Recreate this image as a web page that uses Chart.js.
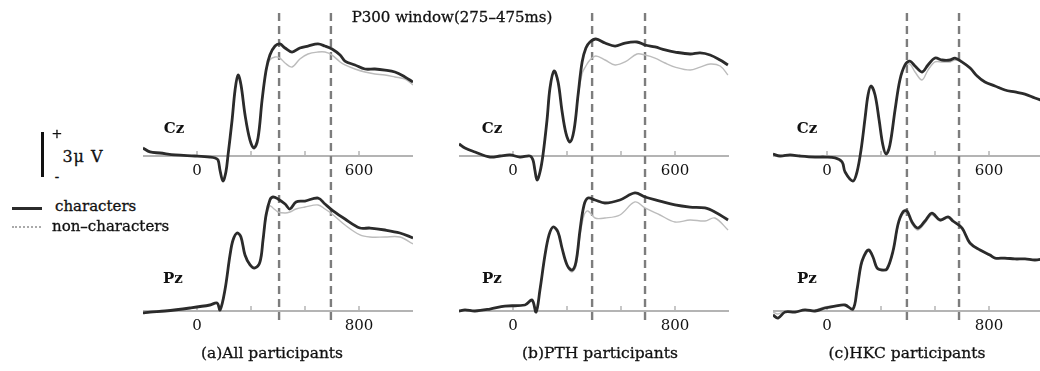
<!DOCTYPE html>
<html>
<head>
<meta charset="utf-8">
<title>ERP characters vs non-characters</title>
<script src="https://cdn.jsdelivr.net/npm/chart.js@4.4.1/dist/chart.umd.min.js"></script>
<style>
  html, body { margin: 0; padding: 0; width: 1040px; height: 371px; overflow: hidden; background: #fff; }
  body { position: relative; font-family: "DejaVu Serif", "Liberation Serif", serif; color: #111; }
  canvas { position: absolute; top: 0; }
  .t { position: absolute; white-space: nowrap; line-height: 1; transform: translate(-50%, -50%); -webkit-text-stroke: 0.3px #111; }
  .l { position: absolute; white-space: nowrap; line-height: 1; transform: translateY(-50%); -webkit-text-stroke: 0.3px #111; }
  .site { font-weight: bold; font-size: 15px; -webkit-text-stroke: 0; }
  .cap { font-size: 15.5px; }
</style>
</head>
<body>
<canvas id="colA" width="270" height="371" style="left:143px"></canvas>
<canvas id="colB" width="270" height="371" style="left:459px"></canvas>
<canvas id="colC" width="270" height="371" style="left:773px"></canvas>

<div class="t" style="left:452px;top:17px;font-size:15px;">P300 window(275–475ms)</div>

<div class="t site" style="left:174px;top:128px;">Cz</div>
<div class="t site" style="left:492px;top:128px;">Cz</div>
<div class="t site" style="left:807px;top:128px;">Cz</div>
<div class="t site" style="left:173px;top:278px;">Pz</div>
<div class="t site" style="left:492px;top:278px;">Pz</div>
<div class="t site" style="left:807px;top:278px;">Pz</div>

<div class="t cap" style="left:272px;top:354px;">(a)All participants</div>
<div class="t cap" style="left:600px;top:354px;">(b)PTH participants</div>
<div class="t cap" style="left:907px;top:354px;">(c)HKC participants</div>

<!-- scale bar -->
<div style="position:absolute;left:41px;top:132px;width:3px;height:45px;background:#111;"></div>
<div class="t" style="left:57px;top:133px;font-size:13px;">+</div>
<div class="t" style="left:57px;top:176px;font-size:13px;">-</div>
<div class="t" style="left:83px;top:157px;font-size:16px;letter-spacing:1px;">3μ V</div>

<!-- legend -->
<div style="position:absolute;left:12px;top:207px;width:30px;border-top:3px solid #2b2b2b;"></div>
<div class="l" style="left:55px;top:206px;font-size:15px;">characters</div>
<div style="position:absolute;left:12px;top:226px;width:29px;border-top:2px dotted #aaa;"></div>
<div class="l" style="left:52px;top:226px;font-size:15px;">non–characters</div>

<script>
// colours
const AXIS_GREY = "#b4b4b4";
const CHAR_COLOR = "#2b2b2b";
const NON_COLOR = "#bcbcbc";
const DASH_COLOR = "#7d7d7d";

// x axes: Cz panels in ms, Pz panels use their own (longer) time labels
const CZ_TICKS = [0, 200, 400, 600];
const CZ_TICK_LABELS = ["0", "", "", "600"];
const PZ_TICKS = [0, 266.7, 533.3, 800];
const PZ_TICK_LABELS = ["0", "", "", "800"];

// P300 window markers as drawn (ms on the Cz axis)
const A_WINDOW = [304, 496];
const B_WINDOW = [293, 489];
const C_WINDOW = [296, 489];

// (a) All participants -- Cz
const A_CZ_T = [-200, -174, -137, -81, -7, 48, 67, 78, 85, 96, 107, 115, 130, 141, 152, 163, 178, 196, 211, 226, 241, 256, 270, 289, 307, 326, 352, 381, 411, 448, 474, 500, 530, 548, 585, 622, 659, 696, 733, 770, 800];
const A_CZ_CHAR = [0.53, 0.27, 0.2, 0.07, 0, -0.07, -0.13, -0.27, -0.93, -1.67, -1.07, 0.07, 2.4, 4.4, 5.4, 4.73, 2.73, 1.07, 0.53, 1.2, 3.73, 5.73, 6.73, 7.33, 7.47, 7.2, 6.93, 7.2, 7.33, 7.47, 7.33, 7.13, 6.73, 6.33, 6.07, 5.8, 5.8, 5.73, 5.6, 5.27, 4.93];
const A_CZ_NON = [0.53, 0.27, 0.2, 0.07, 0, -0.07, -0.13, -0.27, -0.93, -1.67, -1.07, 0.07, 2.4, 4.4, 5.4, 4.73, 2.73, 1.07, 0.53, 1.2, 3.67, 5.6, 6.4, 6.6, 6.53, 6.2, 5.93, 6.47, 6.8, 6.93, 6.93, 6.73, 6.27, 6.07, 5.8, 5.6, 5.47, 5.4, 5.27, 5.13, 4.73];
// (a) All participants -- Pz
const A_PZ_T = [-267, -232, -158, -35, 64, 99, 114, 138, 163, 178, 198, 217, 237, 262, 286, 311, 326, 341, 360, 375, 400, 435, 459, 489, 533, 598, 632, 667, 731, 805, 854, 928, 1002, 1067];
const A_PZ_CHAR = [-0.13, -0.07, 0, 0.2, 0.4, 0.53, 0.07, 1.4, 3.73, 4.73, 5.2, 4.93, 3.73, 3.07, 2.87, 3.27, 4.73, 6.4, 7.4, 7.6, 7.47, 7.13, 6.8, 7.27, 7.33, 7.53, 7.13, 6.73, 6.13, 5.53, 5.53, 5.4, 5.2, 4.87];
const A_PZ_NON = [-0.13, -0.07, 0, 0.2, 0.4, 0.53, 0.07, 1.4, 3.73, 4.73, 5.2, 4.93, 3.73, 3.07, 2.87, 3.2, 4.6, 6.2, 7.0, 6.87, 6.6, 6.53, 6.6, 6.8, 6.93, 7.07, 6.8, 6.47, 5.73, 5.07, 4.93, 4.93, 4.93, 4.47];

// (b) PTH participants -- Cz
const B_CZ_T = [-200, -178, -141, -85, -48, -11, 26, 63, 74, 81, 89, 100, 111, 126, 137, 152, 167, 181, 196, 211, 226, 241, 256, 270, 285, 307, 341, 378, 415, 459, 489, 526, 563, 600, 656, 693, 730, 767, 796];
const B_CZ_CHAR = [0.8, 0.53, 0.27, -0.07, 0, 0.07, -0.07, 0, -0.27, -0.93, -1.6, -1.07, 0.07, 2.4, 4.53, 5.67, 4.93, 3.07, 1.53, 0.93, 1.73, 4.07, 6.27, 7.2, 7.6, 7.8, 7.53, 7.33, 7.53, 7.6, 7.4, 7.27, 7.07, 6.93, 6.8, 6.87, 6.73, 6.4, 6.07];
const B_CZ_NON = [0.8, 0.53, 0.27, -0.07, 0, 0.07, -0.07, 0, -0.27, -0.93, -1.6, -1.07, 0.07, 2.4, 4.53, 5.67, 4.93, 3.07, 1.53, 0.93, 1.73, 3.9, 5.5, 6.0, 6.4, 6.67, 6.4, 6.07, 6.27, 6.8, 6.73, 6.53, 6.2, 5.93, 5.73, 5.93, 6.13, 6.0, 5.4];
// (b) PTH participants -- Pz
const B_PZ_T = [-267, -237, -188, -114, -40, 59, 94, 114, 133, 158, 178, 198, 222, 242, 267, 291, 311, 331, 351, 370, 405, 454, 528, 602, 652, 726, 800, 874, 948, 997, 1062];
const B_PZ_CHAR = [0, 0.07, 0, 0.13, 0.33, 0.4, 0.73, -0.07, 1.4, 3.73, 5.07, 5.6, 5.27, 4.2, 3.07, 2.73, 3.27, 5.4, 7.07, 7.53, 7.4, 7.2, 7.4, 7.87, 7.6, 7.33, 7.07, 6.93, 6.87, 6.6, 6.07];
const B_PZ_NON = [0, 0.07, 0, 0.13, 0.33, 0.4, 0.73, -0.07, 1.4, 3.73, 5.07, 5.6, 5.27, 4.2, 3.0, 2.6, 3.0, 5.0, 6.4, 6.67, 6.2, 6.2, 6.4, 7.27, 6.87, 6.4, 5.93, 6.07, 6.0, 6.2, 5.4];

// (c) HKC participants -- Cz
const C_CZ_T = [-200, -174, -137, -100, -44, -7, 30, 56, 67, 96, 111, 126, 141, 152, 163, 178, 193, 207, 219, 233, 252, 270, 289, 307, 326, 352, 374, 400, 426, 456, 474, 500, 530, 556, 585, 622, 659, 696, 733, 770, 800];
const C_CZ_CHAR = [0.13, 0, 0.07, 0, -0.07, -0.07, -0.13, -0.4, -1.07, -1.67, -1.07, 0.4, 2.53, 4.07, 4.67, 4.07, 2.4, 0.73, 0.13, 0.73, 3.07, 5.07, 6.07, 6.33, 6.0, 5.6, 6.07, 6.53, 6.4, 6.4, 6.53, 6.27, 5.87, 5.33, 4.93, 4.67, 4.4, 4.27, 4.13, 3.87, 3.67];
const C_CZ_NON = [0.13, 0, 0.07, 0, -0.07, -0.07, -0.13, -0.4, -1.07, -1.67, -1.07, 0.4, 2.53, 4.07, 4.67, 4.07, 2.4, 0.73, 0.13, 0.73, 3.07, 5.07, 6.0, 6.13, 5.6, 5.07, 5.73, 6.27, 6.27, 6.27, 6.4, 6.27, 5.87, 5.33, 4.93, 4.67, 4.4, 4.27, 4.13, 3.87, 3.67];
// (c) HKC participants -- Pz
const C_PZ_T = [-267, -242, -207, -158, -109, -59, -10, 40, 89, 128, 148, 163, 173, 193, 207, 227, 247, 272, 296, 326, 351, 375, 395, 420, 449, 484, 518, 558, 598, 622, 667, 706, 756, 805, 830, 879, 928, 978, 1027, 1067];
const C_PZ_CHAR = [-0.27, -0.47, -0.07, -0.07, 0.07, 0, 0.2, 0.33, 0.4, 0.13, 1.4, 2.73, 3.33, 3.93, 4.07, 3.6, 2.87, 2.73, 2.8, 4.0, 5.8, 6.6, 6.67, 5.93, 5.53, 6.0, 6.53, 6.07, 6.27, 6.0, 5.53, 4.53, 4.07, 3.73, 3.53, 3.53, 3.47, 3.47, 3.4, 3.47];
const C_PZ_NON = [-0.07, -0.2, 0, -0.07, 0.07, 0.07, 0.27, 0.33, 0.4, 0.13, 1.3, 2.6, 3.2, 3.8, 4.0, 3.6, 2.93, 2.8, 2.73, 3.93, 5.67, 6.47, 6.53, 5.8, 5.4, 5.87, 6.4, 6.0, 6.2, 5.93, 5.53, 4.6, 4.07, 3.67, 3.53, 3.47, 3.47, 3.47, 3.4, 3.4];

// layout of each column canvas (pixels)
const PLOT_TOP = 13;
const PLOT_BOTTOM = 322;
const CANVAS_H = 371;
const PX_PER_UV = 15;
const CZ_ZERO_PX = 156;
const PZ_ZERO_PX = 311;

const CZ_MAX = (CZ_ZERO_PX - PLOT_TOP) / PX_PER_UV;
const CZ_MIN = -(PLOT_BOTTOM - CZ_ZERO_PX) / PX_PER_UV;
const PZ_MAX = (PZ_ZERO_PX - PLOT_TOP) / PX_PER_UV;
const PZ_MIN = -(PLOT_BOTTOM - PZ_ZERO_PX) / PX_PER_UV;

const TICK_FONT = { family: "'DejaVu Serif', 'Liberation Serif', serif", size: 15 };

function points(times, values) {
  return times.map((t, i) => ({ x: t, y: values[i] }));
}

function trace(times, values, xId, yId, color, width) {
  return {
    data: points(times, values),
    xAxisID: xId,
    yAxisID: yId,
    borderColor: color,
    borderWidth: width,
    pointRadius: 0,
    tension: 0.35,
    borderJoinStyle: "round",
    fill: false,
  };
}

function windowLine(ms) {
  return {
    data: [{ x: ms, y: CZ_MAX }, { x: ms, y: CZ_MIN }],
    xAxisID: "xCz",
    yAxisID: "yCz",
    borderColor: DASH_COLOR,
    borderWidth: 2.4,
    borderDash: [8, 5],
    pointRadius: 0,
    fill: false,
  };
}

function timeAxis(ticks, labels, min, max, yId) {
  return {
    type: "linear",
    min: min,
    max: max,
    position: { [yId]: 0 },
    afterBuildTicks: (scale) => { scale.ticks = ticks.map((v) => ({ value: v })); },
    ticks: {
      autoSkip: false,
      maxRotation: 0,
      padding: 6,
      color: "#111",
      font: TICK_FONT,
      callback: (v, i) => labels[i],
    },
    grid: { display: false, drawTicks: false },
    border: { display: true, color: AXIS_GREY, width: 2 },
  };
}

// small upward tick marks on each baseline
const upTicks = {
  id: "upTicks",
  beforeDatasetsDraw(chart) {
    const ctx = chart.ctx;
    ctx.save();
    ctx.strokeStyle = AXIS_GREY;
    ctx.lineWidth = 1.5;
    [["xCz", "yCz"], ["xPz", "yPz"]].forEach(([xi, yi]) => {
      const xs = chart.scales[xi];
      const y0 = chart.scales[yi].getPixelForValue(0);
      xs.ticks.forEach((t) => {
        const px = xs.getPixelForValue(t.value);
        ctx.beginPath();
        ctx.moveTo(px, y0);
        ctx.lineTo(px, y0 - 5);
        ctx.stroke();
      });
    });
    ctx.restore();
  },
};

function column(canvasId, cz, pz, win) {
  const el = document.getElementById(canvasId);
  if (!el || typeof Chart === "undefined") return;
  new Chart(el, {
    type: "line",
    data: {
      datasets: [
        trace(cz[0], cz[1], "xCz", "yCz", CHAR_COLOR, 2.8),
        trace(pz[0], pz[1], "xPz", "yPz", CHAR_COLOR, 2.8),
        trace(cz[0], cz[2], "xCz", "yCz", NON_COLOR, 1.4),
        trace(pz[0], pz[2], "xPz", "yPz", NON_COLOR, 1.4),
      ].concat(win.map(windowLine)),
    },
    options: {
      responsive: false,
      animation: false,
      layout: { padding: { top: PLOT_TOP, bottom: CANVAS_H - PLOT_BOTTOM, left: 0, right: 0 } },
      plugins: { legend: { display: false }, tooltip: { enabled: false } },
      scales: {
        xCz: timeAxis(CZ_TICKS, CZ_TICK_LABELS, -200, 800, "yCz"),
        xPz: timeAxis(PZ_TICKS, PZ_TICK_LABELS, -266.7, 1066.7, "yPz"),
        yCz: { type: "linear", display: false, min: CZ_MIN, max: CZ_MAX },
        yPz: { type: "linear", display: false, min: PZ_MIN, max: PZ_MAX },
      },
    },
    plugins: [upTicks],
  });
}

column("colA", [A_CZ_T, A_CZ_CHAR, A_CZ_NON], [A_PZ_T, A_PZ_CHAR, A_PZ_NON], A_WINDOW);
column("colB", [B_CZ_T, B_CZ_CHAR, B_CZ_NON], [B_PZ_T, B_PZ_CHAR, B_PZ_NON], B_WINDOW);
column("colC", [C_CZ_T, C_CZ_CHAR, C_CZ_NON], [C_PZ_T, C_PZ_CHAR, C_PZ_NON], C_WINDOW);
</script>
</body>
</html>
